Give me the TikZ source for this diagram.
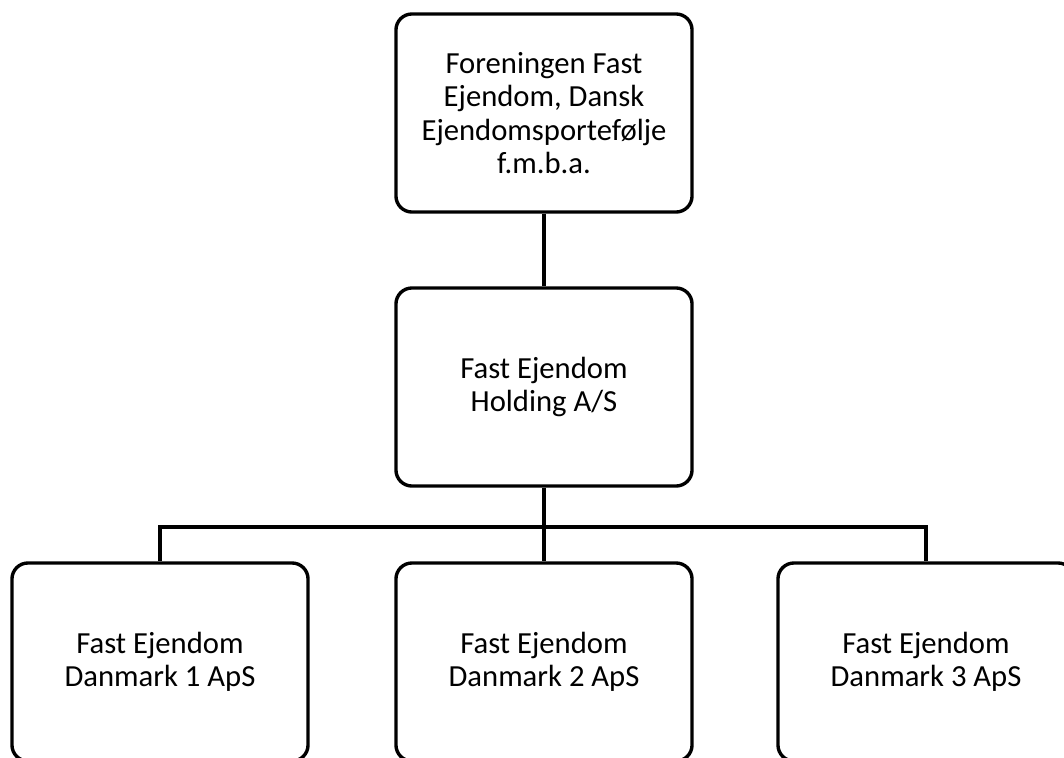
\documentclass[tikz,border=0pt]{standalone}
\usepackage{fontspec}
\setmainfont{Carlito}
\usepackage{tikz}
\usetikzlibrary{positioning}

\tikzset{
  unit/.style={draw,line width=2.4pt,rounded corners=0.4cm,
    minimum width=7.4cm,minimum height=4.95cm,align=center,
    inner sep=0pt,font=\fontsize{21.8}{23.6}\selectfont},
  link/.style={line width=2.4pt}
}

\begin{document}
\begin{tikzpicture}[x=0.025cm,y=-0.025cm]
\useasboundingbox (0,0) rectangle (1064,757);
\clip (0,0) rectangle (1064,757);
% ---- owner and holding ----
\node[unit] (fmba) at (544,113) {Foreningen Fast\\Ejendom, Dansk\\Ejendomsportefølje\\f.m.b.a.};
\node[unit] (hold) at (544,387) {Fast Ejendom\\Holding A/S};
% ---- subsidiaries ----
\node[unit] (aps1) at (160,662) {Fast Ejendom\\Danmark 1 ApS};
\node[unit] (aps2) at (544,662) {Fast Ejendom\\Danmark 2 ApS};
\node[unit] (aps3) at (926,662) {Fast Ejendom\\Danmark 3 ApS};
\coordinate (bus) at (544,527);
\draw[link] (fmba.south) -- (hold.north);
\draw[link] (hold.south) -- (bus);
\draw[link] (aps1.north) |- (bus) -| (aps3.north);
\draw[link] (bus) -- (aps2.north);
\end{tikzpicture}
\end{document}
